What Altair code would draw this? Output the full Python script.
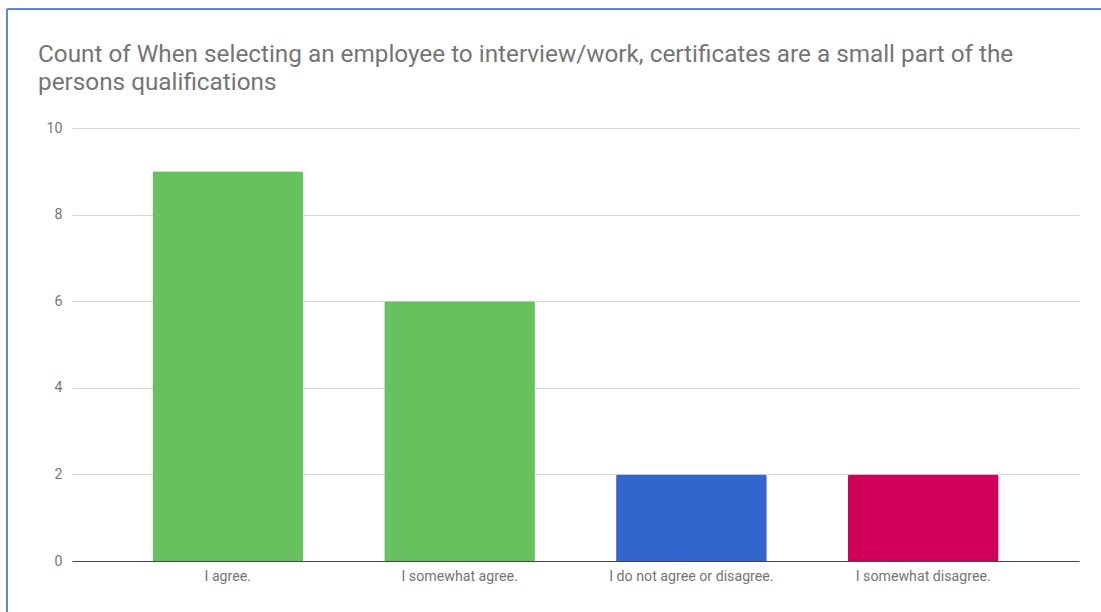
import altair as alt
import pandas as pd

categories = ["I agree.", "I somewhat agree.", "I do not agree or disagree.", "I somewhat disagree."]
counts = [9, 6, 2, 2]
colors = ["#67c15e", "#67c15e", "#3366cc", "#d10058"]
title_lines = ["Count of When selecting an employee to interview/work, certificates are a small part of the",
               "persons qualifications"]

df = pd.DataFrame({"category": categories, "count": counts, "color": colors})

bars = alt.Chart(df).mark_bar(cornerRadiusTopLeft=2, cornerRadiusTopRight=2).encode(
    x=alt.X("category:N", sort=categories,
            scale=alt.Scale(paddingInner=0.35, paddingOuter=0.347),
            axis=alt.Axis(title=None, labelAngle=0, labelFont="Roboto", labelFontSize=14.2,
                          labelColor="#757575", ticks=False, domain=True, domainColor="#444444",
                          domainWidth=1.2, labelPadding=8, grid=False)),
    y=alt.Y("count:Q", scale=alt.Scale(domain=[0, 10]),
            axis=alt.Axis(title=None, values=[0, 2, 4, 6, 8, 10], labelFont="Roboto", labelFontSize=14.2,
                          labelColor="#757575", ticks=False, domain=False, gridColor="#d6d6d6",
                          labelPadding=10)),
    color=alt.Color("color:N", scale=None),
)

border_top = alt.Chart(df).mark_rule(color="#5a8bd2", strokeWidth=2).encode(
    x=alt.value(-65), x2=alt.value(1040), y=alt.value(-119)
)
border_left = alt.Chart(df).mark_rule(color="#5a8bd2", strokeWidth=2).encode(
    x=alt.value(-65), y=alt.value(-119), y2=alt.value(500)
)

chart = alt.layer(bars, border_top, border_left).properties(
    width=1007, height=433,
    title=alt.TitleParams(text=title_lines, anchor="start", frame="group", dx=-34, offset=-87,
                          baseline="top",
                          font="Roboto", fontSize=24.3, fontWeight="normal", color="#757575",
                          lineHeight=28),
    autosize=alt.AutoSizeParams(type="none"),
    padding={"left": 72, "top": 128, "right": 22, "bottom": 51},
    background="white",
).configure_view(stroke=None, strokeWidth=0)

chart.save("out.html", embed_options={"renderer": "svg", "actions": False})
